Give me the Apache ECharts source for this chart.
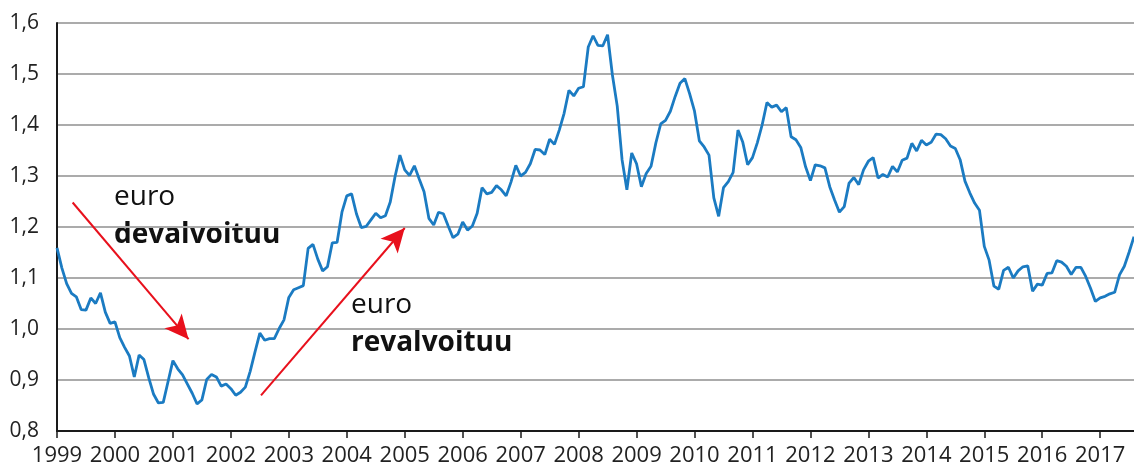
<!DOCTYPE html>
<html>
<head>
<meta charset="utf-8">
<script src="https://cdn.jsdelivr.net/npm/echarts@6/dist/echarts.min.js"></script>
<style>
  html, body { margin: 0; padding: 0; background: #fff; }
  #chart { width: 1134px; height: 468px; }
</style>
</head>
<body>
<div id="chart"></div>
<script>
// EUR/USD kuukausikeskiarvot, tammikuu 1999 - elokuu 2017
var firstYear = 1999;
var eurUsd = [
  1.159, 1.120, 1.089, 1.070, 1.063, 1.038, 1.037, 1.061, 1.050, 1.071, 1.033, 1.011, // 1999
  1.014, 0.983, 0.964, 0.947, 0.906, 0.949, 0.940, 0.904, 0.872, 0.855, 0.856, 0.897, // 2000
  0.938, 0.922, 0.910, 0.892, 0.874, 0.853, 0.861, 0.901, 0.911, 0.906, 0.888, 0.892, // 2001
  0.883, 0.870, 0.876, 0.886, 0.917, 0.955, 0.992, 0.978, 0.981, 0.981, 1.001, 1.018, // 2002
  1.062, 1.077, 1.081, 1.085, 1.158, 1.166, 1.137, 1.114, 1.122, 1.169, 1.170, 1.229, // 2003
  1.261, 1.265, 1.226, 1.199, 1.201, 1.214, 1.227, 1.218, 1.222, 1.249, 1.299, 1.341, // 2004
  1.312, 1.301, 1.320, 1.294, 1.269, 1.217, 1.204, 1.229, 1.226, 1.202, 1.179, 1.186, // 2005
  1.210, 1.194, 1.202, 1.227, 1.277, 1.265, 1.268, 1.281, 1.273, 1.261, 1.288, 1.321, // 2006
  1.300, 1.307, 1.324, 1.352, 1.351, 1.342, 1.372, 1.362, 1.390, 1.423, 1.468, 1.457, // 2007
  1.472, 1.475, 1.553, 1.575, 1.556, 1.555, 1.577, 1.498, 1.437, 1.332, 1.273, 1.345, // 2008
  1.324, 1.279, 1.305, 1.319, 1.365, 1.402, 1.409, 1.427, 1.456, 1.482, 1.491, 1.461, // 2009
  1.427, 1.369, 1.357, 1.341, 1.257, 1.221, 1.277, 1.289, 1.307, 1.390, 1.366, 1.322, // 2010
  1.336, 1.365, 1.400, 1.444, 1.435, 1.439, 1.426, 1.434, 1.377, 1.371, 1.356, 1.318, // 2011
  1.291, 1.322, 1.320, 1.316, 1.279, 1.253, 1.229, 1.240, 1.286, 1.297, 1.283, 1.312, // 2012
  1.329, 1.336, 1.296, 1.303, 1.298, 1.319, 1.308, 1.331, 1.335, 1.364, 1.349, 1.370, // 2013
  1.361, 1.366, 1.382, 1.381, 1.373, 1.359, 1.354, 1.332, 1.290, 1.267, 1.247, 1.233, // 2014
  1.162, 1.135, 1.084, 1.078, 1.115, 1.121, 1.100, 1.114, 1.122, 1.124, 1.074, 1.088, // 2015
  1.086, 1.109, 1.110, 1.134, 1.131, 1.123, 1.107, 1.121, 1.121, 1.103, 1.080, 1.054, // 2016
  1.061, 1.064, 1.069, 1.072, 1.106, 1.123, 1.151, 1.181                              // 2017
];
var yTicks = ['0,8', '0,9', '1,0', '1,1', '1,2', '1,3', '1,4', '1,5', '1,6'];

// nuolet: [alku, karki] akselin arvoina
var arrowDown = [[1999.27, 1.248], [2001.27, 0.980]];
var arrowUp = [[2002.52, 0.870], [2005.0, 1.198]];

var seriesData = eurUsd.map(function(v, i) {
  return [firstYear + i / 12, v];
});
var lastX = seriesData[seriesData.length - 1][0];

var FONT = '"Open Sans", "Noto Sans", sans-serif';
var chart = echarts.init(document.getElementById('chart'));

function note(x, y, text, bold) {
  return {
    type: 'text',
    x: x,
    y: y,
    style: {
      text: text,
      font: (bold ? 'bold ' : '') + '28px ' + FONT,
      fill: '#111',
      verticalAlign: 'middle'
    }
  };
}

chart.setOption({
  animation: false,
  grid: { left: 57, right: 0, top: 23, bottom: 37, containLabel: false },
  xAxis: {
    type: 'value',
    min: firstYear,
    max: lastX,
    interval: 1,
    axisLine: { show: true, lineStyle: { color: '#1a1a1a', width: 2 } },
    axisTick: { show: true, length: 7, lineStyle: { color: '#1a1a1a', width: 1.5 } },
    axisLabel: {
      show: true,
      margin: 14,
      fontSize: 22,
      fontFamily: FONT,
      color: '#222',
      showMaxLabel: false,
      formatter: function(v) { return String(Math.round(v)); }
    },
    splitLine: { show: false }
  },
  yAxis: {
    type: 'value',
    min: 0.8,
    max: 1.6,
    interval: 0.1,
    axisLine: { show: true, lineStyle: { color: '#1a1a1a', width: 2 } },
    axisTick: { show: false },
    axisLabel: {
      margin: 18,
      fontSize: 21,
      fontFamily: FONT,
      color: '#222',
      formatter: function(v) { return yTicks[Math.round((v - 0.8) * 10)]; }
    },
    splitLine: { show: true, lineStyle: { color: '#ababab', width: 2 } }
  },
  series: [
    {
      type: 'line',
      data: seriesData,
      showSymbol: false,
      silent: true,
      lineStyle: { color: '#1b7bc2', width: 2.8 },
      markLine: {
        silent: true,
        symbol: ['none', 'arrow'],
        symbolSize: [17, 24],
        label: { show: false },
        lineStyle: { color: '#e8101c', width: 2, type: 'solid' },
        emphasis: { disabled: true },
        data: [
          [{ coord: arrowDown[0] }, { coord: arrowDown[1] }],
          [{ coord: arrowUp[0] }, { coord: arrowUp[1] }]
        ]
      }
    }
  ],
  graphic: [
    note(114, 197, 'euro', false),
    note(114, 235, 'devalvoituu', true),
    note(351, 305, 'euro', false),
    note(351, 343, 'revalvoituu', true)
  ]
});
</script>
</body>
</html>
